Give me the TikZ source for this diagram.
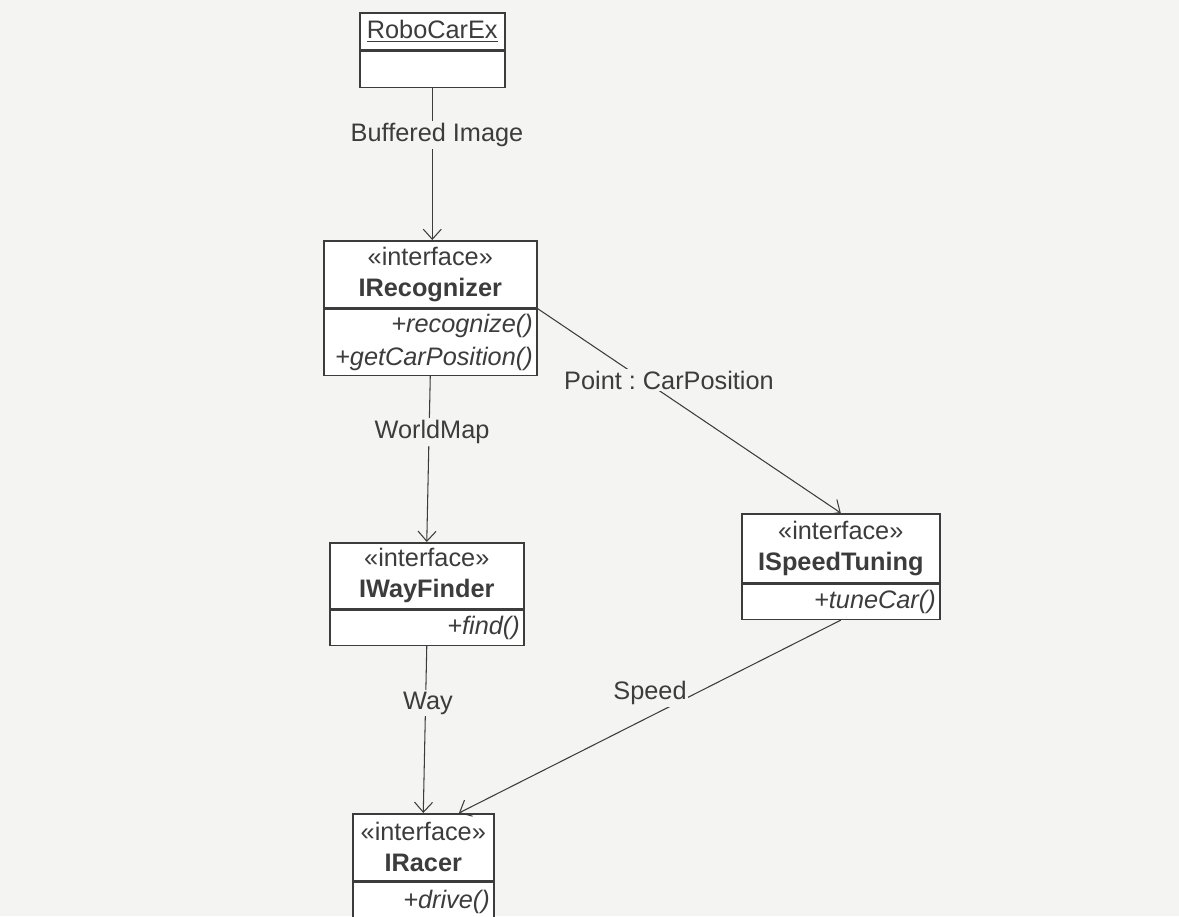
\documentclass[tikz,border=0pt]{standalone}
\usepackage{fontspec}
\setmainfont{Liberation Sans}
\usetikzlibrary{arrows.meta,calc}
\definecolor{ink}{HTML}{3C3C3C}
\definecolor{paper}{HTML}{F4F4F2}
\frenchspacing

\begin{document}
\begin{tikzpicture}[x=0.02cm, y=-0.02cm,
    every node/.style={font=\fontsize{14.4}{17.5}\selectfont, text=ink},
    namebox/.style={draw=ink, line width=0.9pt, fill=white, align=center, inner sep=0pt, anchor=north west},
    opsbox/.style={draw=ink, line width=0.9pt, fill=white, align=right, inner xsep=0.08cm, inner ysep=0pt,
        anchor=north, font=\fontsize{14.4}{18.8}\selectfont\itshape},
    dep/.style={draw=ink, line width=0.6pt, -{Straight Barb[length=0.2cm, width=0.36cm, line width=0.6pt]}},
    lbl/.style={fill=paper, inner sep=1pt}]
    \useasboundingbox (0,0) rectangle (1179,916);
    \clip (0,0) rectangle (1179,916);
    \fill[paper] (0,0) rectangle (1179,916);

    % classes
    \node[namebox, minimum width=2.9cm, minimum height=0.74cm] (robo) at (359,12) {\underline{RoboCarEx}};
    \node[opsbox, text width=2.74cm, minimum height=0.72cm] (roboops) at (robo.south) {};

    \node[namebox, minimum width=4.26cm, minimum height=1.34cm] (rec) at (323,240) {«interface»\\\textbf{IRecognizer}};
    \node[opsbox, text width=4.10cm, minimum height=1.32cm] (recops) at (rec.south) {+recognize()\\+getCarPosition()};

    \node[namebox, minimum width=3.88cm, minimum height=1.32cm] (way) at (329,542) {«interface»\\\textbf{IWayFinder}};
    \node[opsbox, text width=3.72cm, minimum height=0.70cm] (wayops) at (way.south) {+find()};

    \node[namebox, minimum width=3.96cm, minimum height=1.38cm] (speed) at (741,513) {«interface»\\\textbf{ISpeedTuning}};
    \node[opsbox, text width=3.80cm, minimum height=0.70cm] (speedops) at (speed.south) {+tuneCar()};

    \node[namebox, minimum width=2.82cm, minimum height=1.34cm] (racer) at (352,813) {«interface»\\\textbf{IRacer}};
    \node[opsbox, text width=2.66cm, minimum height=0.80cm] (racerops) at (racer.south) {+drive()};

    % dependencies
    \draw[dep] (roboops.south) -- (roboops.south |- rec.north);
    \draw[dep] (recops.south) -- (way.north);
    \draw[dep] (wayops.south) -- (racer.north);
    \draw[dep] (rec.south east) -- (speed.north);
    \draw[dep] (speedops.south) -- ($(racer.north)!0.5!(racer.north east)$);

    % labels
    \node[lbl] (buf) at (437,135) {Buffered Image};
    \node[lbl] (map) at (432,432) {WorldMap};
    \node[lbl] (pos) at (669,380) {Point : CarPosition};
    \node[lbl] (wy) at (428,703) {Way};
    \node[lbl] (spd) at (650,693) {Speed};
\end{tikzpicture}
\end{document}
